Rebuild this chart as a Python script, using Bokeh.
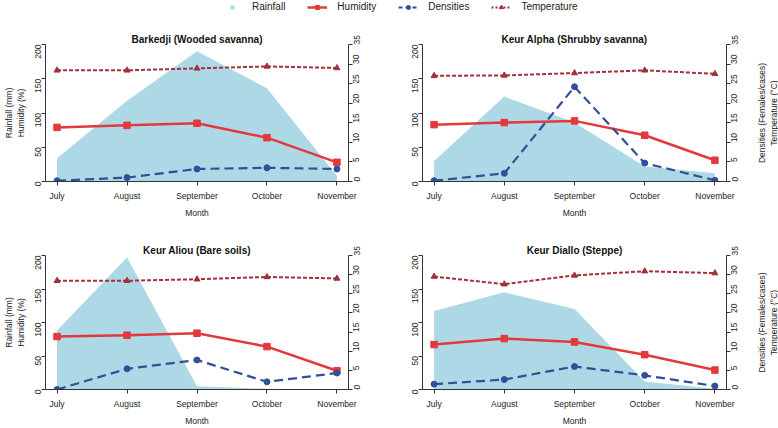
import math
from bokeh.plotting import figure
from bokeh.models import Range1d, LinearAxis, FixedTicker, Legend, LegendItem, ColumnDataSource
from bokeh.layouts import column, row
from bokeh.embed import file_html
from bokeh.resources import INLINE

# ---------------- data ----------------
months = ["July", "August", "September", "October", "November"]
month_idx = [0, 1, 2, 3, 4]

titles = ["Barkedji (Wooded savanna)", "Keur Alpha (Shrubby savanna)",
          "Keur Aliou (Bare soils)", "Keur Diallo (Steppe)"]

barkedji_rain = [34, 118, 190, 136, 8]
barkedji_hum = [79, 82, 85, 64, 28]
barkedji_dens = [0.2, 1.0, 3.2, 3.5, 3.2]
barkedji_temp = [28.4, 28.4, 28.9, 29.4, 29.0]

alpha_rain = [30, 124, 86, 22, 12]
alpha_hum = [83, 86, 88.5, 67.5, 31]
alpha_dens = [0.2, 2.1, 24.2, 4.7, 0.3]
alpha_temp = [27.0, 27.1, 27.7, 28.4, 27.5]

aliou_rain = [88, 197, 5, 1, 0]
aliou_hum = [79, 81, 84, 64, 28]
aliou_dens = [0.0, 5.4, 7.7, 2.0, 4.3]
aliou_temp = [28.4, 28.4, 28.8, 29.4, 29.0]

diallo_rain = [117, 145, 120, 12, 1]
diallo_hum = [67, 76, 71, 52, 29]
diallo_dens = [1.4, 2.6, 6.0, 3.7, 0.9]
diallo_temp = [29.5, 27.5, 29.8, 30.9, 30.4]

left_ticks = [0, 50, 100, 150, 200]
right_ticks = [0, 5, 10, 15, 20, 25, 30, 35]

left_label = "Rainfall (mm)\nHumidity (%)"
right_label = "Densities (Females/cases)\nTemperature (\u00b0C)"
legend_labels = ["Rainfall", "Humidity", "Densities", "Temperature"]

# ---------------- style ----------------
FONT = "Liberation Sans"
TXT = "#222222"
AX = "#333333"
RAIN_C = "#ADD8E6"
HUM_C = "#E3383C"
DENS_C = "#30509A"
TEMP_C = "#A3303A"
TICK_FS = "8.5px"
MB_TOP = 30


def style_axis(ax):
    ax.axis_line_color = AX
    ax.axis_line_width = 1
    ax.major_tick_line_color = AX
    ax.major_tick_out = 4
    ax.major_tick_in = 0
    ax.minor_tick_line_color = None
    ax.major_label_text_font = FONT
    ax.major_label_text_font_size = TICK_FS
    ax.major_label_text_color = TXT
    ax.axis_label_text_font = FONT
    ax.axis_label_text_font_size = TICK_FS
    ax.axis_label_text_font_style = "normal"
    ax.axis_label_text_color = TXT


def make_panel(title, rain, hum, dens, temp, show_left_label, width, height, mbl, mbr, mbb):
    p = figure(width=width, height=height,
               x_range=Range1d(-0.165, 4.165), y_range=Range1d(0, 200),
               output_backend="svg", toolbar_location=None,
               min_border_left=mbl, min_border_right=mbr,
               min_border_top=MB_TOP, min_border_bottom=mbb,
               title=title)
    p.extra_y_ranges = {"r": Range1d(0, 35)}
    src = ColumnDataSource(dict(x=month_idx, rain=rain, hum=hum, dens=dens, temp=temp))

    p.varea(x="x", y1=0, y2="rain", source=src, fill_color=RAIN_C, fill_alpha=1)
    p.line("x", "hum", source=src, line_color=HUM_C, line_width=2.5)
    p.scatter("x", "hum", source=src, marker="square", size=6.5,
              fill_color=HUM_C, line_color=HUM_C)
    p.line("x", "dens", source=src, y_range_name="r", line_color=DENS_C,
           line_width=2.2, line_dash="9 5")
    p.scatter("x", "dens", source=src, y_range_name="r", marker="circle", size=6,
              fill_color=DENS_C, line_color=DENS_C)
    p.line("x", "temp", source=src, y_range_name="r", line_color=TEMP_C,
           line_width=2, line_dash="4 2")
    p.scatter("x", "temp", source=src, y_range_name="r", marker="triangle", size=6,
              fill_color=TEMP_C, line_color=TEMP_C)

    rax = LinearAxis(y_range_name="r", ticker=FixedTicker(ticks=right_ticks))
    p.add_layout(rax, "right")

    p.grid.visible = False
    p.outline_line_color = None
    p.background_fill_color = "white"
    p.border_fill_color = "white"

    p.title.text_font = FONT
    p.title.text_font_size = "10px"
    p.title.text_font_style = "bold"
    p.title.text_color = "#111111"
    p.title.align = "center"
    p.title.standoff = 0

    xa = p.xaxis[0]
    xa.ticker = FixedTicker(ticks=month_idx)
    xa.major_label_overrides = {i: m for i, m in zip(month_idx, months)}
    xa.axis_label = "Month"
    style_axis(xa)
    xa.major_label_standoff = 5
    xa.axis_label_standoff = 4

    la = p.yaxis[0]
    la.ticker = FixedTicker(ticks=left_ticks)
    style_axis(la)
    la.major_label_orientation = math.pi / 2
    la.major_label_standoff = 4
    if show_left_label:
        la.axis_label = left_label
        la.axis_label_standoff = 3

    style_axis(rax)
    rax.major_label_orientation = math.pi / 2
    rax.major_label_standoff = 4
    return p


def make_right_label(width, height, mbb):
    # narrow strip whose left-axis title carries the right-hand axis label
    f = figure(width=width, height=height, x_range=Range1d(0, 1), y_range=Range1d(0, 1),
               toolbar_location=None, output_backend="svg", x_axis_location=None,
               min_border_left=0, min_border_right=0,
               min_border_top=MB_TOP, min_border_bottom=mbb)
    f.grid.visible = False
    f.outline_line_color = None
    ax = f.yaxis[0]
    ax.ticker = FixedTicker(ticks=[])
    ax.axis_line_color = None
    ax.major_tick_line_color = None
    ax.minor_tick_line_color = None
    ax.major_tick_out = 0
    ax.major_label_standoff = 0
    ax.axis_label = right_label
    ax.axis_label_standoff = 0
    ax.axis_label_text_font = FONT
    ax.axis_label_text_font_size = TICK_FS
    ax.axis_label_text_font_style = "normal"
    ax.axis_label_text_color = TXT
    return f


H1, H2 = 211, 203
B1, B2 = 44, 36
p1 = make_panel(titles[0], barkedji_rain, barkedji_hum, barkedji_dens, barkedji_temp,
                True, 389, H1, 44, 41, B1)
p2 = make_panel(titles[1], alpha_rain, alpha_hum, alpha_dens, alpha_temp,
                False, 365, H1, 33, 28, B1)
p3 = make_panel(titles[2], aliou_rain, aliou_hum, aliou_dens, aliou_temp,
                True, 389, H2, 44, 41, B2)
p4 = make_panel(titles[3], diallo_rain, diallo_hum, diallo_dens, diallo_temp,
                False, 365, H2, 33, 28, B2)
r2 = make_right_label(24, H1, B1)
r4 = make_right_label(24, H2, B2)

# ---------------- legend strip ----------------
lf = figure(width=778, height=14, x_range=Range1d(0, 1), y_range=Range1d(0, 1),
            toolbar_location=None, output_backend="svg", min_border=0)
lf.axis.visible = False
lf.grid.visible = False
lf.outline_line_color = None

off = ColumnDataSource(dict(x=[-10, -11], y=[-10, -11]))
r_rain = lf.scatter("x", "y", source=off, marker="square", size=8,
                    fill_color=RAIN_C, line_color=None)
r_hl = lf.line("x", "y", source=off, line_color=HUM_C, line_width=2.5)
r_hm = lf.scatter("x", "y", source=off, marker="square", size=6.5,
                  fill_color=HUM_C, line_color=HUM_C)
r_dl = lf.line("x", "y", source=off, line_color=DENS_C, line_width=2, line_dash="4 3")
r_dm = lf.scatter("x", "y", source=off, marker="circle", size=6,
                  fill_color=DENS_C, line_color=DENS_C)
r_tl = lf.line("x", "y", source=off, line_color=TEMP_C, line_width=2, line_dash="2 2")
r_tm = lf.scatter("x", "y", source=off, marker="triangle", size=6,
                  fill_color=TEMP_C, line_color=TEMP_C)

legend = Legend(items=[
    LegendItem(label=legend_labels[0], renderers=[r_rain]),
    LegendItem(label=legend_labels[1], renderers=[r_hl, r_hm]),
    LegendItem(label=legend_labels[2], renderers=[r_dl, r_dm]),
    LegendItem(label=legend_labels[3], renderers=[r_tl, r_tm]),
], orientation="horizontal", location=(222, 2), glyph_width=20, glyph_height=10,
    label_height=10, label_standoff=10, spacing=22, padding=0, margin=0,
    border_line_color=None, background_fill_alpha=0,
    label_text_font=FONT, label_text_font_size="10px", label_text_color=TXT)
lf.add_layout(legend)

layout = column(lf, row(p1, p2, r2), row(p3, p4, r4))

with open("out.html", "w") as f:
    f.write(file_html(layout, INLINE))
